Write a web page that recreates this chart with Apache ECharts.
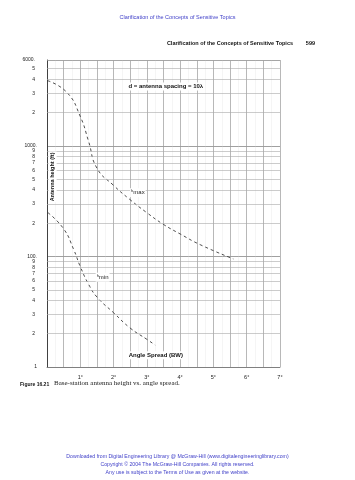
<!DOCTYPE html>
<html>
<head>
<meta charset="utf-8">
<script src="https://cdn.jsdelivr.net/npm/echarts@6/dist/echarts.min.js"></script>
<style>
  html, body { margin: 0; background: #fff; }
  #chart { width: 355px; height: 480px; }
</style>
</head>
<body>
<div id="chart"></div>
<script>
// angle spread (deg) vs antenna height (ft)
const hmaxAngle = [0.02, 0.6, 1.0, 1.25, 1.5, 2.0, 2.5, 3.0, 3.5, 4.0, 4.6, 5.6]
const hmaxHeight = [3900, 3050, 1850, 1100, 630, 440, 326, 249, 195, 160, 128, 95]
const hminAngle = [0.03, 0.5, 0.8, 1.0, 1.25, 1.5, 2.0, 2.5, 3.0, 3.25]
const hminHeight = [249, 178, 116, 81, 56, 43, 31, 22.5, 17.8, 15.8]

// tick labels
const xTickLabels = ['1°', '2°', '3°', '4°', '5°', '6°', '7°']
const decadeBases = [10, 100, 1000]
const decadeLabels = ['1', '100.', '1000.']
const minorDigits = [2, 3, 4, 5, 6, 7, 8, 9]
const topValue = 6000
const topLabel = '6000.'

// page texts
const headerText = 'Clarification of the Concepts of Sensitive Topics'
const pageNumber = '599'
const footerLines = [
  'Downloaded from Digital Engineering Library @ McGraw-Hill (www.digitalengineeringlibrary.com)',
  'Copyright © 2004 The McGraw-Hill Companies. All rights reserved.',
  'Any use is subject to the Terms of Use as given at the website.'
]

const FONT = '"Liberation Sans", Arial, sans-serif'
const BLUE = '#3f3fc8'

const pair = (xs, ys) => xs.map((x, i) => [x, ys[i]])

// horizontal grid lines at 2..9 of every decade, labelled with the digit
const gridLines = []
decadeBases.forEach(base => {
  minorDigits.forEach(d => {
    const v = base * d
    if (v < topValue) {
      gridLines.push({ yAxis: v, label: { formatter: String(d) } })
    }
  })
})
gridLines.push({ yAxis: topValue, label: { formatter: topLabel } })

const chart = echarts.init(document.getElementById('chart'), null, { renderer: 'canvas' })

const footerTitles = footerLines.map((t, i) => ({
  text: t,
  left: 'center',
  top: 449 + i * 8,
  textStyle: { color: BLUE, fontSize: 5.2, fontWeight: 'normal', fontFamily: FONT }
}))

const option = {
  backgroundColor: '#fff',
  animation: false,
  textStyle: { fontFamily: FONT },
  title: [
    {
      text: headerText,
      left: 'center', top: 9,
      textStyle: { color: BLUE, fontSize: 5.5, fontWeight: 'normal', fontFamily: FONT }
    },
    {
      text: headerText,
      right: 57, top: 35,
      textStyle: { color: '#111', fontSize: 5.5, fontWeight: 'bold', fontFamily: FONT }
    },
    {
      text: pageNumber,
      right: 35, top: 35,
      textStyle: { color: '#111', fontSize: 5.5, fontWeight: 'bold', fontFamily: FONT }
    },
    {
      text: 'Figure 16.21',
      left: 15, top: 377,
      textStyle: { color: '#111', fontSize: 5, fontWeight: 'bold', fontFamily: FONT }
    },
    {
      text: 'Base-station antenna height vs. angle spread.',
      left: 49, top: 375,
      textStyle: { color: '#222', fontSize: 7, fontWeight: 'normal', fontFamily: '"Liberation Serif", serif' }
    }
  ].concat(footerTitles),
  grid: { left: 47, right: 75, top: 60, bottom: 113 },
  xAxis: {
    type: 'value',
    min: 0,
    max: 7,
    interval: 0.5,
    axisLine: { show: true, lineStyle: { color: '#777', width: 0.8 } },
    axisTick: { show: false },
    axisLabel: {
      fontSize: 5.5,
      color: '#222',
      margin: 7,
      formatter: v => (v > 0 && Number.isInteger(v)) ? xTickLabels[v - 1] : ''
    },
    splitLine: { show: true, lineStyle: { color: '#999', width: 0.7 } },
    minorTick: { show: false, splitNumber: 2 },
    minorSplitLine: { show: true, lineStyle: { color: '#d4d4d4', width: 0.5, type: 'dotted' } }
  },
  yAxis: {
    type: 'log',
    logBase: 10,
    min: 10,
    max: topValue,
    axisLine: { show: true, lineStyle: { color: '#333', width: 0.9 } },
    axisTick: { show: false },
    axisLabel: {
      fontSize: 5,
      color: '#222',
      margin: 10,
      showMaxLabel: false,
      formatter: v => {
        const i = decadeBases.indexOf(Math.round(v))
        return i >= 0 ? decadeLabels[i] : ''
      }
    },
    splitLine: { show: true, lineStyle: { color: '#888', width: 0.8 } }
  },
  series: [
    {
      name: 'hmax',
      type: 'line',
      data: pair(hmaxAngle, hmaxHeight),
      smooth: 0.5,
      showSymbol: false,
      lineStyle: { color: '#222', width: 0.8, type: [3, 3] },
      markLine: {
        silent: true,
        symbol: 'none',
        lineStyle: { color: '#aaa', width: 0.6, type: 'solid' },
        label: { position: 'start', distance: 12, fontSize: 5, color: '#222' },
        data: gridLines
      },
      markPoint: {
        silent: true,
        symbolSize: 0,
        data: [
          {
            coord: [3.57, 3460],
            label: {
              show: true, position: 'inside', formatter: 'd = antenna spacing = 10λ',
              fontSize: 6, fontWeight: 'bold', color: '#111',
              backgroundColor: '#fff', padding: [1, 2]
            }
          },
          {
            coord: [2.73, 378],
            label: {
              show: true, position: 'inside', formatter: '{h|h}{m|max}',
              backgroundColor: '#fff', padding: [1, 1],
              rich: {
                h: { fontSize: 4, color: '#222', verticalAlign: 'top', padding: [0, 0, 3, 0] },
                m: { fontSize: 6, color: '#222' }
              }
            }
          },
          {
            coord: [0.17, 525],
            label: {
              show: true, position: 'inside', formatter: 'Antenna height (ft)',
              rotate: 90, fontSize: 5.5, fontWeight: 'bold', color: '#111',
              backgroundColor: '#fff', padding: [1, 1]
            }
          },
          {
            coord: [3.27, 12.8],
            label: {
              show: true, position: 'inside', formatter: 'Angle Spread (BW)',
              fontSize: 6, fontWeight: 'bold', color: '#111',
              backgroundColor: '#fff', padding: [1, 2]
            }
          }
        ]
      }
    },
    {
      name: 'hmin',
      type: 'line',
      data: pair(hminAngle, hminHeight),
      smooth: 0.5,
      showSymbol: false,
      lineStyle: { color: '#222', width: 0.8, type: [3, 3] },
      markPoint: {
        silent: true,
        symbolSize: 0,
        data: [
          {
            coord: [1.67, 65],
            label: {
              show: true, position: 'inside', formatter: '{h|h}{m|min}',
              backgroundColor: '#fff', padding: [1, 1],
              rich: {
                h: { fontSize: 4, color: '#222', verticalAlign: 'top', padding: [0, 0, 3, 0] },
                m: { fontSize: 6, color: '#222' }
              }
            }
          }
        ]
      }
    }
  ]
}

chart.setOption(option)
</script>
</body>
</html>
